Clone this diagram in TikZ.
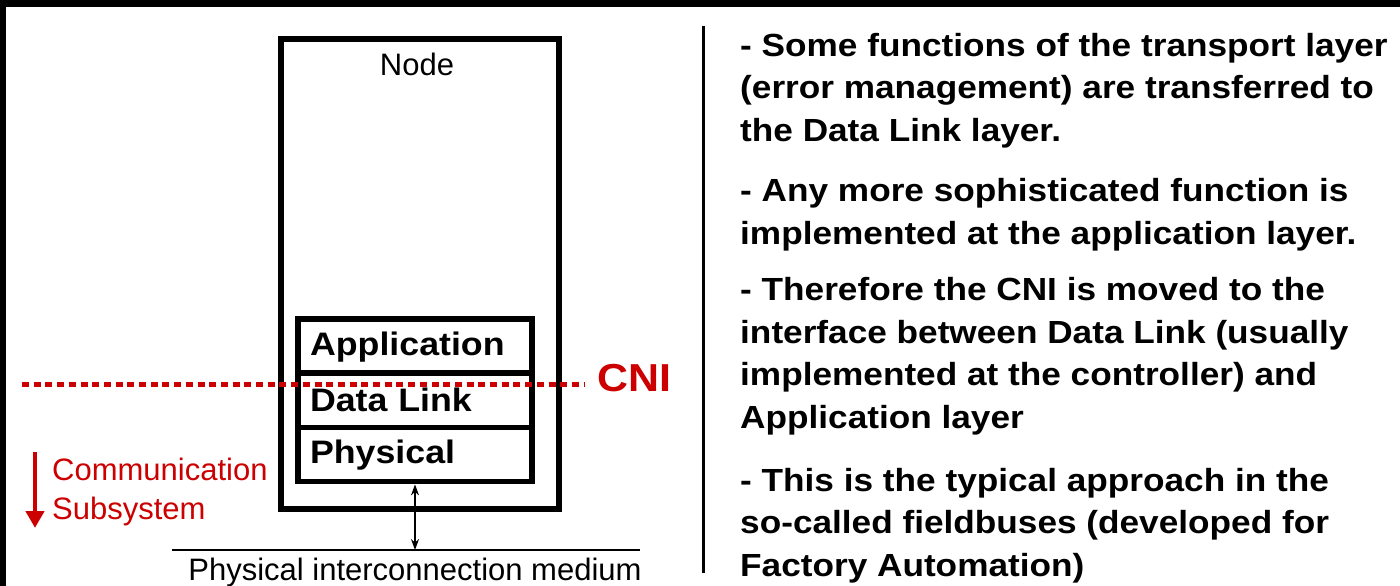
\documentclass[tikz,border=0pt]{standalone}
\usepackage{fontspec}
\setmainfont{Liberation Sans}
\newfontfamily\widebold{Liberation Sans}[FakeStretch=1.1]
\usetikzlibrary{positioning,arrows.meta}
\definecolor{cnired}{RGB}{204,0,0}
\newcommand\layerstrut{\rule[-3pt]{0pt}{28pt}}

\begin{document}
\begin{tikzpicture}[x=1pt,y=-1pt,
    layerbox/.style={draw,line width=5.5pt,outer sep=0pt,minimum width=234pt,minimum height=54.2pt,
      inner xsep=12pt,inner ysep=0pt,text width=210pt,align=left,
      font=\widebold\bfseries\fontsize{32.5}{36}\selectfont},
    plain/.style={inner sep=0pt,font=\fontsize{31}{39}\selectfont},
    bullettext/.style={inner sep=0pt,align=left,anchor=base west,
      font=\widebold\bfseries\fontsize{32}{42.5}\selectfont}]
        \useasboundingbox (0,0) rectangle (1400,586);
        % frame edges of the slide
        \fill (0,0) rectangle (1400,7);
        \fill (0,0) rectangle (6,586);
        % the node with its layers
        \node[draw,line width=6pt,minimum width=278pt,minimum height=469.5pt,anchor=north west] (nodebox) at (278,36) {};
        \node[plain,anchor=base] (nodetxt) at (417,75) {Node};
        \node[layerbox,anchor=north west] (app) at (298,319) {Application\layerstrut};
        \node[layerbox,below=0pt of app] (dl) {Data Link\layerstrut};
        \node[layerbox,below=0pt of dl] (phy) {Physical\layerstrut};
        % medium
        \coordinate (medl) at (172,550);
        \coordinate (medr) at (640,550);
        \draw[line width=1.3pt] (medl) -- (medr);
        \draw[line width=1.2pt,shorten <=2.8pt,{Stealth[length=11pt,width=8pt]}-{Stealth[length=11pt,width=8pt]}] (phy.south) -- (phy.south |- medl);
        \node[plain,anchor=base] (medtxt) at (415,580) {Physical interconnection medium};
        % CNI
        \coordinate (cnil) at (22,384.5);
        \coordinate (cnir) at (585,384.5);
        \draw[cnired,line width=5.5pt,dash pattern=on 7pt off 4.7pt] (cnil) -- (cnir);
        \node[anchor=base west,inner sep=0pt,text=cnired,font=\widebold\bfseries\fontsize{39}{40}\selectfont] (cni) at (597,391) {CNI};
        \coordinate (arrtop) at (35,452);
        \coordinate (arrtip) at (35,528);
        \draw[cnired,line width=4.5pt,-{Triangle[length=17pt,width=18pt]}] (arrtop) -- (arrtip);
        \node[plain,text=cnired,align=left,anchor=base west] (comm) at (52,519) {Communication\\Subsystem};
        % right column
        \coordinate (divtop) at (703,26);
        \coordinate (divbot) at (703,573);
        \draw[line width=3pt] (divtop) -- (divbot);
        \node[bullettext] (p1) at (740,141) {- Some functions of the transport layer\\(error management) are transferred to\\the Data Link layer.};
        \node[bullettext] (p2) at (740,244) {- Any more sophisticated function is\\implemented at the application layer.};
        \node[bullettext] (p3) at (740,428) {- Therefore the CNI is moved to the\\interface between Data Link (usually\\implemented at the controller) and\\Application layer};
        \node[bullettext] (p4) at (740,576) {- This is the typical approach in the\\so-called fieldbuses (developed for\\Factory Automation)};
    \end{tikzpicture}
\end{document}
